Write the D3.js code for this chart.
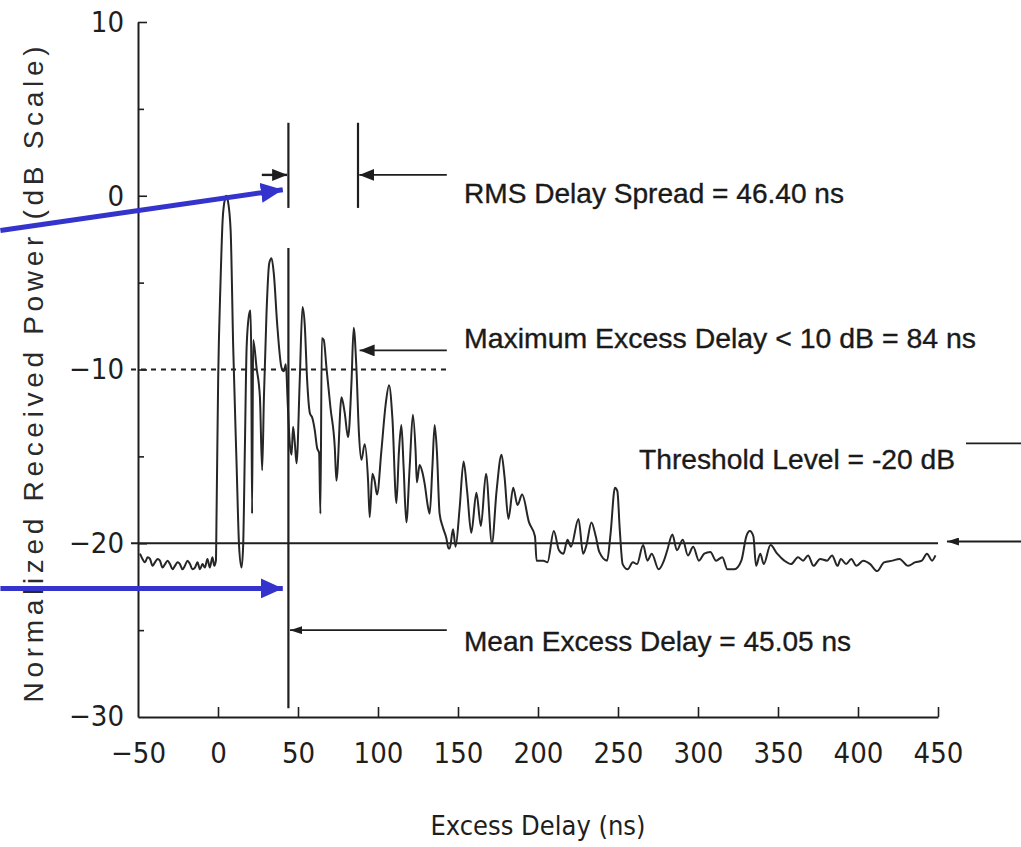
<!DOCTYPE html>
<html>
<head>
<meta charset="utf-8">
<script src="https://cdn.jsdelivr.net/npm/d3@7"></script>
<style>
  html, body { margin: 0; padding: 0; background: #fff; }
  svg { display: block; }
</style>
</head>
<body>
<svg id="chart" width="1021" height="847"></svg>
<script>
/// Power delay profile (ns, dB)
var delayNs = [
  -48.8, -47.2, -45.6, -44.0, -42.5, -40.9, -39.4, -37.8, -36.3, -34.7,
  -33.1, -31.5, -30.0, -28.4, -26.9, -25.3, -23.8, -22.2, -20.7, -19.1,
  -17.5, -16.0, -14.4, -12.8, -11.3, -9.7, -8.2, -6.6, -5.1, -3.5,
  -2.3, -1.3, -0.9, 0.1, 1.6, 2.9, 4.3, 5.2, 6.2, 7.9,
  9.5, 11.6, 13.2, 14.7, 15.7, 16.8, 17.9, 19.5, 20.3, 20.8,
  21.3, 22.0, 24.1, 26.2, 27.6, 28.7, 30.3, 32.0, 33.5, 34.9,
  37.0, 39.7, 41.1, 42.4, 43.6, 44.9, 46.0, 46.9, 48.0, 49.1,
  51.1, 52.8, 54.2, 55.7, 57.4, 59.0, 60.5, 61.9, 63.2, 64.0,
  64.9, 66.1, 67.8, 70.3, 73.0, 74.0, 77.2, 79.2, 81.3, 83.4,
  84.8, 86.5, 88.1, 89.6, 91.7, 93.8, 94.8, 96.5, 97.9, 99.4,
  102.1, 104.8, 106.9, 109.0, 111.5, 113.1, 114.6, 116.0, 117.7, 119.8,
  121.8, 123.5, 124.3, 126.0, 127.7, 129.2, 131.2, 132.3, 134.0, 135.4,
  136.8, 138.5, 140.6, 142.7, 144.1, 144.8, 146.9, 148.5, 151.0, 153.5,
  155.7, 158.3, 161.5, 164.3, 167.5, 171.2, 174.1, 177.2, 179.1, 181.5,
  184.5, 187.2, 190.1, 194.4, 198.1, 199.1, 203.4, 205.9, 209.9, 213.1,
  215.9, 218.4, 220.6, 225.3, 228.2, 230.3, 233.4, 236.1, 238.3, 243.2,
  245.3, 248.1, 249.6, 251.1, 252.9, 256.0, 259.3, 261.9, 265.7, 268.4,
  271.1, 275.4, 278.7, 280.8, 284.0, 286.8, 290.5, 293.7, 297.0, 300.6,
  303.9, 307.7, 311.3, 315.2, 318.4, 322.7, 327.1, 330.2, 332.4, 334.6,
  336.3, 338.9, 341.1, 345.3, 349.5, 353.9, 358.2, 362.5, 365.7, 368.8,
  372.2, 376.3, 380.7, 383.8, 387.2, 389.3, 392.6, 395.8, 399.0, 403.3,
  407.6, 411.9, 416.3, 421.6, 425.9, 431.3, 435.6, 439.9, 443.1, 446.3,
  448.4
]
var powerDb = [
  -20.6, -20.9, -21.1, -20.8, -20.9, -21.3, -21.1, -20.9, -21.0, -21.4,
  -21.2, -21.0, -21.2, -21.5, -21.3, -21.1, -21.2, -21.5, -21.3, -21.0,
  -21.2, -21.5, -21.4, -21.1, -21.5, -21.2, -21.4, -20.9, -21.4, -20.8,
  -21.3, -21.0, -18.3, -10.6, -4.9, -1.4, -0.2, 0.0, -0.3, -2.0,
  -8.7, -15.4, -20.2, -21.4, -20.2, -14.5, -8.7, -6.8, -6.6, -9.5,
  -18.3, -8.3, -9.9, -11.6, -15.8, -11.6, -6.8, -3.9, -3.6, -4.5,
  -7.4, -9.9, -10.1, -9.7, -12.0, -14.3, -14.9, -13.3, -14.2, -15.4,
  -10.6, -6.4, -7.4, -10.6, -12.5, -12.8, -13.5, -14.5, -14.8, -18.3,
  -8.2, -8.3, -9.9, -12.2, -14.5, -16.4, -11.6, -12.5, -13.9, -10.8,
  -7.6, -9.9, -13.7, -15.2, -14.3, -16.4, -18.5, -16.0, -16.4, -17.2,
  -14.7, -12.0, -10.9, -12.8, -17.7, -14.7, -13.2, -15.6, -18.8, -15.6,
  -12.6, -14.7, -16.5, -15.5, -15.9, -16.6, -17.9, -18.3, -15.6, -13.2,
  -14.7, -18.3, -19.1, -19.7, -20.3, -20.3, -19.2, -20.2, -18.0, -15.3,
  -17.0, -19.4, -17.1, -19.0, -16.0, -20.0, -17.0, -14.9, -16.2, -18.6,
  -16.8, -17.8, -17.2, -18.8, -19.6, -21.0, -21.0, -21.1, -19.3, -20.4,
  -20.6, -19.8, -20.2, -18.6, -20.6, -20.1, -18.8, -19.6, -20.5, -21.0,
  -19.5, -16.8, -17.0, -19.2, -21.2, -21.5, -21.1, -21.2, -20.1, -21.0,
  -20.6, -21.5, -21.0, -20.4, -19.5, -20.4, -19.8, -20.7, -20.2, -21.0,
  -20.6, -20.5, -21.0, -20.8, -21.5, -21.5, -21.0, -19.6, -19.3, -19.6,
  -21.3, -20.6, -21.2, -20.1, -20.6, -21.0, -21.2, -20.8, -21.0, -20.7,
  -21.3, -20.9, -21.0, -20.7, -21.3, -20.9, -21.2, -20.9, -21.3, -21.0,
  -21.2, -21.6, -21.1, -21.0, -20.9, -21.3, -21.1, -21.0, -20.6, -21.0,
  -20.7
]

/// Axis ticks and labels
var xTicks = [-50, 0, 50, 100, 150, 200, 250, 300, 350, 400, 450]
var yTicks = [10, 5, 0, -5, -10, -15, -20, -25]
var xTitle = "Excess Delay (ns)"
var yTitle = "Normalized Received Power (dB Scale)"

/// Annotation values (ns, dB)
var meanDelay = 44          /// drawn mean excess delay marker
var rmsEdges = [44, 87.5]   /// edges of the rms spread bracket
var maxPeak = [88.5, -8.9]  /// peak pointed at by the max excess arrow
var thresholdDb = -20
var tenDbLevel = -10
var annotationTexts = [
  "RMS Delay Spread = 46.40 ns",
  "Maximum Excess Delay < 10 dB = 84 ns",
  "Threshold Level = -20 dB",
  "Mean Excess Delay = 45.05 ns"
]
/// Blue overlay arrows, [fromNs, fromDb, toNs, toDb]
var blueArrows = [
  [-136, -2.0, 40.5, 0.35],
  [-136, -22.6, 40.5, -22.6]
]

var W = 1021, H = 847
var margin = {top: 22, right: 83, bottom: 130, left: 138}

var svg = d3.select("#chart")

var x = d3.scaleLinear().domain([-50, 450]).range([margin.left, W - margin.right])
var y = d3.scaleLinear().domain([-30, 10]).range([H - margin.bottom, margin.top])

var ink = "#1e1e1e"
var tickFont = "'DejaVu Sans Condensed', 'Liberation Sans Narrow', sans-serif"
var textFont = "'Liberation Sans', Arial, sans-serif"
var fmt = d => d < 0 ? "\u2212" + Math.abs(d) : "" + d

/// arrow heads
var defs = svg.append("defs")
function head(id, len, hw, color) {
  defs.append("marker")
    .attr("id", id)
    .attr("markerUnits", "userSpaceOnUse")
    .attr("viewBox", [-len, -hw, len, 2 * hw].join(" "))
    .attr("refX", 0).attr("refY", 0)
    .attr("markerWidth", len).attr("markerHeight", 2 * hw)
    .attr("orient", "auto")
    .append("path")
    .attr("d", "M0,0L" + (-len) + "," + (-hw) + "L" + (-len) + "," + hw + "Z")
    .attr("fill", color)
}
head("hbig", 15, 6, ink)
head("hsmall", 12, 4, ink)
head("hblue", 22, 10, "#3434cc")

/// X axis (ticks point up into the plot)
var xAxis = svg.append("g")
  .attr("transform", "translate(0," + y(-30) + ")")
  .call(d3.axisBottom(x).tickValues(xTicks).tickFormat(fmt)
        .tickSizeInner(-10).tickSizeOuter(0).tickPadding(25))
xAxis.select(".domain").attr("stroke", ink).attr("stroke-width", 2)
xAxis.selectAll(".tick line").attr("stroke", ink).attr("stroke-width", 1.6)
  .filter(d => d == -50).remove()
xAxis.selectAll(".tick text")
  .attr("font-family", tickFont).attr("font-size", 29).attr("fill", ink)

/// Y axis
var yAxis = svg.append("g")
  .attr("transform", "translate(" + x(-50) + ",0)")
  .call(d3.axisLeft(y).tickValues(yTicks)
        .tickFormat(d => d % 10 == 0 ? fmt(d) : "")
        .tickSizeInner(-8).tickSizeOuter(0).tickPadding(14))
yAxis.select(".domain").attr("stroke", ink).attr("stroke-width", 2)
yAxis.selectAll(".tick line").attr("stroke", ink).attr("stroke-width", 1.6)
  .attr("x2", d => d % 10 == 0 ? 9 : 6)
yAxis.selectAll(".tick text")
  .attr("font-family", tickFont).attr("font-size", 29).attr("fill", ink)
/// bottom label sits on the corner
yAxis.append("text")
  .attr("x", -14).attr("y", y(-30)).attr("dy", "0.32em")
  .attr("text-anchor", "end")
  .attr("font-family", tickFont).attr("font-size", 29).attr("fill", ink)
  .text(fmt(-30))

/// axis titles
svg.append("text")
  .attr("x", x(200)).attr("y", 835)
  .attr("text-anchor", "middle")
  .attr("font-family", tickFont).attr("font-size", 27).attr("fill", ink)
  .text(xTitle)

svg.append("text")
  .attr("transform", "translate(43," + ((y(-30) + y(10)) / 2 + 5) + ") rotate(-90)")
  .attr("text-anchor", "middle")
  .attr("font-family", textFont).attr("font-size", 28).attr("fill", "#2a2a2a")
  .attr("textLength", 656).attr("lengthAdjust", "spacing")
  .text(yTitle)

/// reference levels
svg.append("line")
  .attr("x1", x(-50) - 7).attr("x2", x(143))
  .attr("y1", y(tenDbLevel)).attr("y2", y(tenDbLevel))
  .attr("stroke", ink).attr("stroke-width", 1.8)
  .attr("stroke-dasharray", "5,5")

svg.append("line")
  .attr("x1", x(-50) - 7).attr("x2", x(450))
  .attr("y1", y(thresholdDb)).attr("y2", y(thresholdDb))
  .attr("stroke", ink).attr("stroke-width", 2)

/// the measured profile
var line = d3.line()
  .x((d, i) => x(delayNs[i]))
  .y(d => y(d))
  .curve(d3.curveMonotoneX)

svg.append("path")
  .datum(powerDb)
  .attr("d", line)
  .attr("fill", "none")
  .attr("stroke", "#262626")
  .attr("stroke-width", 2)
  .attr("stroke-linejoin", "round")

/// mean excess delay marker
svg.append("line")
  .attr("x1", x(meanDelay)).attr("x2", x(meanDelay))
  .attr("y1", y(-3)).attr("y2", y(-29.5))
  .attr("stroke", ink).attr("stroke-width", 2.2)

/// rms spread bracket
svg.selectAll("line.rms")
  .data(rmsEdges)
  .enter().append("line")
  .attr("class", "rms")
  .attr("x1", d => x(d)).attr("x2", d => x(d))
  .attr("y1", y(4.2)).attr("y2", y(-0.7))
  .attr("stroke", ink).attr("stroke-width", 2.2)

function arrow(x1, y1, x2, y2, mk, w) {
  svg.append("line")
    .attr("x1", x(x1)).attr("y1", y(y1))
    .attr("x2", x(x2)).attr("y2", y(y2))
    .attr("stroke", ink).attr("stroke-width", w || 1.8)
    .attr("marker-end", mk ? "url(#" + mk + ")" : null)
}
arrow(27.4, 1.2, rmsEdges[0] - 0.8, 1.2, "hbig", 2.4)
arrow(143, 1.2, rmsEdges[1] + 0.8, 1.2, "hbig")
arrow(143, maxPeak[1], maxPeak[0], maxPeak[1], "hbig")
arrow(143, -25, meanDelay + 1, -25, "hsmall")
arrow(505, thresholdDb + 0.1, 455.6, thresholdDb + 0.1, "hsmall")
arrow(467.5, -14.25, 505, -14.25, null)

/// annotation labels
var labelPos = [[464, 203], [464, 348], [639, 469], [464, 651]]
var labelLen = [380, 512, 316, 387]
svg.selectAll("text.note")
  .data(annotationTexts)
  .enter().append("text")
  .attr("class", "note")
  .attr("x", (d, i) => labelPos[i][0])
  .attr("y", (d, i) => labelPos[i][1])
  .attr("textLength", (d, i) => labelLen[i])
  .attr("lengthAdjust", "spacingAndGlyphs")
  .attr("font-family", textFont).attr("font-size", 28)
  .attr("fill", "#1a1a1a")
  .attr("stroke", "#1a1a1a").attr("stroke-width", 0.35)
  .text(d => d)

/// blue overlay arrows
svg.selectAll("line.blue")
  .data(blueArrows)
  .enter().append("line")
  .attr("class", "blue")
  .attr("x1", d => x(d[0])).attr("y1", d => y(d[1]))
  .attr("x2", d => x(d[2])).attr("y2", d => y(d[3]))
  .attr("stroke", "#3434cc").attr("stroke-width", 5)
  .attr("marker-end", "url(#hblue)")
</script>
</body>
</html>
